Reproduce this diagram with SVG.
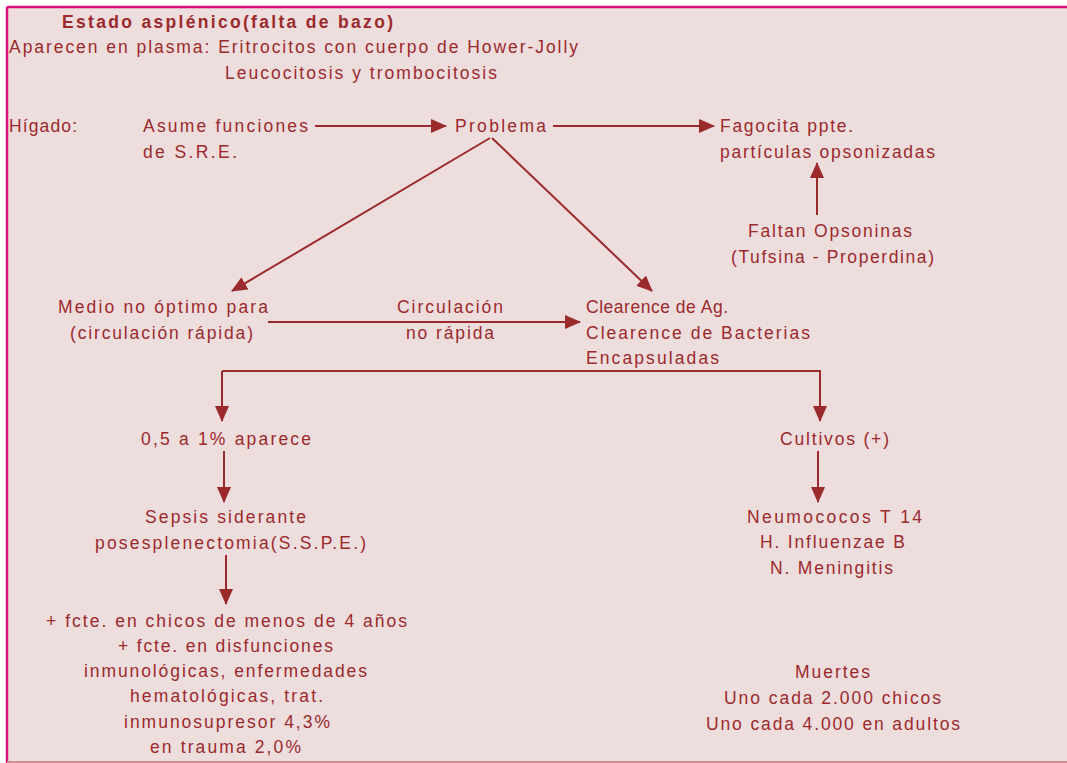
<svg xmlns="http://www.w3.org/2000/svg" width="1067" height="763" viewBox="0 0 1067 763">
<defs>
<marker id="ah" markerWidth="16" markerHeight="14" refX="15" refY="7" orient="auto" markerUnits="userSpaceOnUse">
<path d="M0,0 L16,7 L0,14 Z" fill="#9b2a2c"/>
</marker>
<style>
text{font-family:"Liberation Sans",Arial,sans-serif;font-size:17.5px;fill:#9b2a2c;}
.b{font-weight:bold;font-size:17.5px;}
.ln{stroke:#9b2a2c;stroke-width:2;fill:none;}
.a{marker-end:url(#ah);}
</style>
</defs>
<rect x="0" y="0" width="1067" height="763" fill="#ffffff"/>
<rect x="7" y="7" width="1062" height="754" fill="#eedddd"/>
<line x1="7" y1="7" x2="1067" y2="7" stroke="#d8107a" stroke-width="2.5"/>
<line x1="7" y1="7" x2="7" y2="763" stroke="#d8107a" stroke-width="2.5"/>
<line x1="7" y1="762" x2="1067" y2="762" stroke="#d49090" stroke-width="2"/>

<g id="header">
<text class="b" x="62" y="28" textLength="331" lengthAdjust="spacing">Estado asplénico(falta de bazo)</text>
<text x="9" y="53" textLength="569" lengthAdjust="spacing">Aparecen en plasma:  Eritrocitos con cuerpo de Hower-Jolly</text>
<text x="225" y="79" textLength="272" lengthAdjust="spacing">Leucocitosis y trombocitosis</text>
</g>
<g id="higado">
<text x="9" y="132" textLength="68" lengthAdjust="spacing">Hígado:</text>
</g>
<g id="asume">
<text x="143" y="132" textLength="165" lengthAdjust="spacing">Asume funciones</text>
<text x="143" y="158" textLength="94" lengthAdjust="spacing">de S.R.E.</text>
</g>
<g id="problema">
<text x="455" y="132" textLength="91" lengthAdjust="spacing">Problema</text>
</g>
<g id="fagocita">
<text x="720" y="132" textLength="133" lengthAdjust="spacing">Fagocita ppte.</text>
<text x="720" y="158" textLength="215" lengthAdjust="spacing">partículas opsonizadas</text>
</g>
<g id="faltan">
<text x="748" y="237" textLength="164" lengthAdjust="spacing">Faltan Opsoninas</text>
<text x="731" y="263" textLength="203" lengthAdjust="spacing">(Tufsina - Properdina)</text>
</g>
<g id="medio">
<text x="58" y="313" textLength="210" lengthAdjust="spacing">Medio no óptimo para</text>
<text x="70" y="339" textLength="183" lengthAdjust="spacing">(circulación rápida)</text>
</g>
<g id="circ">
<text x="397" y="313" textLength="106" lengthAdjust="spacing">Circulación</text>
<text x="406" y="339" textLength="88" lengthAdjust="spacing">no rápida</text>
</g>
<g id="clearence">
<text x="586" y="313" textLength="142" lengthAdjust="spacing">Clearence de Ag.</text>
<text x="586" y="339" textLength="224" lengthAdjust="spacing">Clearence de Bacterias</text>
<text x="586" y="364" textLength="133" lengthAdjust="spacing">Encapsuladas</text>
</g>
<g id="aparece">
<text x="141" y="445" textLength="170" lengthAdjust="spacing">0,5 a 1% aparece</text>
</g>
<g id="sepsis">
<text x="145" y="523" textLength="161" lengthAdjust="spacing">Sepsis siderante</text>
<text x="95" y="549" textLength="271" lengthAdjust="spacing">posesplenectomia(S.S.P.E.)</text>
</g>
<g id="fcte">
<text x="46" y="627" textLength="361" lengthAdjust="spacing">+ fcte. en chicos de menos de 4 años</text>
<text x="118" y="652" textLength="215" lengthAdjust="spacing">+ fcte. en disfunciones</text>
<text x="84" y="677" textLength="283" lengthAdjust="spacing">inmunológicas, enfermedades</text>
<text x="130" y="702" textLength="193" lengthAdjust="spacing">hematológicas, trat.</text>
<text x="124" y="728" textLength="206" lengthAdjust="spacing">inmunosupresor 4,3%</text>
<text x="150" y="753" textLength="151" lengthAdjust="spacing">en trauma 2,0%</text>
</g>
<g id="cultivos">
<text x="780" y="445" textLength="109" lengthAdjust="spacing">Cultivos (+)</text>
</g>
<g id="germenes">
<text x="747" y="523" textLength="175" lengthAdjust="spacing">Neumococos T 14</text>
<text x="760" y="548" textLength="145" lengthAdjust="spacing">H. Influenzae B</text>
<text x="770" y="574" textLength="123" lengthAdjust="spacing">N. Meningitis</text>
</g>
<g id="muertes">
<text x="795" y="678" textLength="75" lengthAdjust="spacing">Muertes</text>
<text x="724" y="704" textLength="217" lengthAdjust="spacing">Uno cada 2.000 chicos</text>
<text x="706" y="730" textLength="254" lengthAdjust="spacing">Uno cada 4.000 en adultos</text>
</g>

<g id="connectors">
<line class="ln a" x1="315" y1="126" x2="446" y2="126"/>
<line class="ln a" x1="553" y1="126" x2="714" y2="126"/>
<line class="ln a" x1="817" y1="215" x2="817" y2="163"/>
<line class="ln a" x1="490" y1="138" x2="232" y2="291"/>
<line class="ln a" x1="492" y1="138" x2="652" y2="291"/>
<line class="ln a" x1="268" y1="322" x2="580" y2="322"/>
<polyline class="ln a" points="222,371 222,421"/>
<polyline class="ln a" points="222,371 820,371 820,421"/>
<line class="ln a" x1="224" y1="451" x2="224" y2="502"/>
<line class="ln a" x1="226" y1="555" x2="226" y2="604"/>
<line class="ln a" x1="818" y1="451" x2="818" y2="502"/>
</g>
</svg>
